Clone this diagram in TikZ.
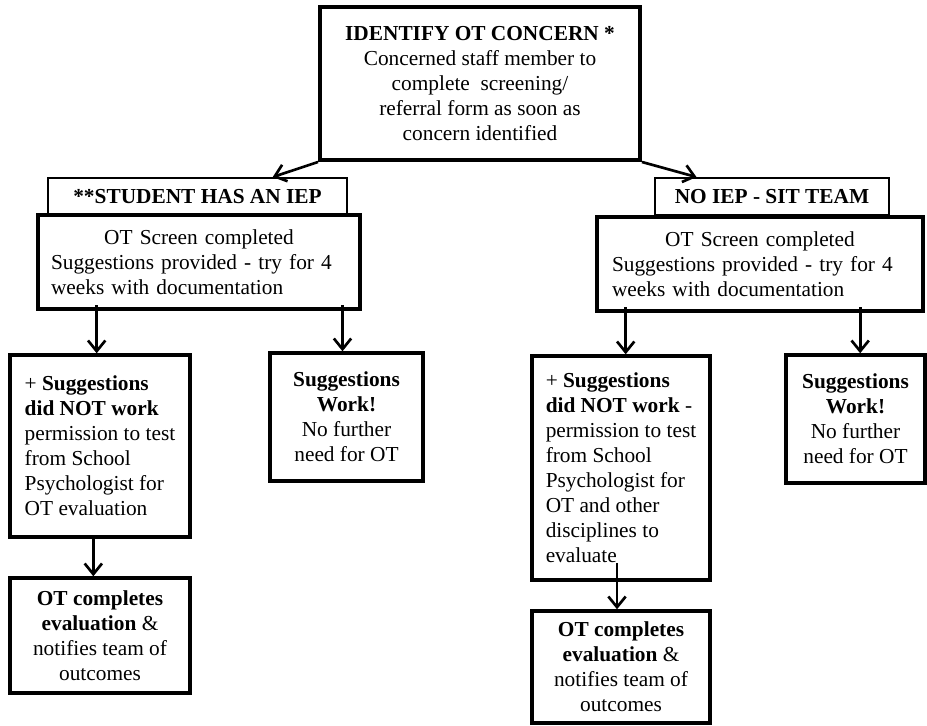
\documentclass[tikz,border=0pt]{standalone}
\usepackage{fontspec}
\setmainfont{Liberation Serif}
\usepackage{tikz}
\usetikzlibrary{arrows.meta,calc}

\tikzset{
  stepbox/.style={draw, line width=2.6pt, fill=white, inner sep=0pt, align=center,
    font=\fontsize{16pt}{18.75pt}\selectfont},
  headbox/.style={draw, line width=1.4pt, fill=white, inner sep=0pt, align=center,
    font=\fontsize{16pt}{18.75pt}\selectfont\bfseries},
  flow/.style={line width=2pt, -{Straight Barb[length=8pt,width=13pt]}}
}

\begin{document}
\begin{tikzpicture}[x=0.75pt,y=0.75pt,yscale=-1,xscale=1]
    \useasboundingbox (0,0) rectangle (927,725);
    % top
    \node [stepbox, line width=3pt, minimum width=240pt, minimum height=114.75pt] (concern) at (480,83.5)
      {\textbf{IDENTIFY OT CONCERN *}\\Concerned staff member to\\complete\ \ screening/\\referral form as soon as\\concern identified};
    % left branch
    \node [headbox, minimum width=224.25pt, minimum height=27.75pt] (iephdr) at (197.5,196.5) {**STUDENT HAS AN IEP};
    \node [stepbox, minimum width=241.5pt, minimum height=70.5pt, text width=222pt, align=left] (iepscreen) at (199,262)
      {\makebox[\linewidth]{OT Screen completed}\\Suggestions provided - try for 4\\weeks with documentation};
    \node [stepbox, minimum width=135pt, minimum height=136.5pt, align=left] (iepfail) at (100,446)
      {+ \textbf{Suggestions}\\\textbf{did NOT work}\\permission to test\\from School\\Psychologist for\\OT evaluation};
    \node [stepbox, minimum width=114.75pt, minimum height=96pt] (iepwork) at (346.5,417)
      {\textbf{Suggestions}\\\textbf{Work!}\\No further\\need for OT};
    \node [stepbox, minimum width=135pt, minimum height=86.25pt] (iepeval) at (100,635.5)
      {\textbf{OT completes}\\\textbf{evaluation} \&\\notifies team of\\outcomes};
    % right branch
    \node [headbox, minimum width=175.5pt, minimum height=27.75pt] (sithdr) at (772,196.5) {NO IEP - SIT TEAM};
    \node [stepbox, minimum width=244.5pt, minimum height=70.5pt, text width=222pt, align=left] (sitscreen) at (760,264)
      {\makebox[\linewidth]{OT Screen completed}\\Suggestions provided - try for 4\\weeks with documentation};
    \node [stepbox, minimum width=133.5pt, minimum height=168pt, align=left] (sitfail) at (621,468)
      {+ \textbf{Suggestions}\\\textbf{did NOT work} -\\permission to test\\from School\\Psychologist for\\OT and other\\disciplines to\\evaluate};
    \node [stepbox, minimum width=104.25pt, minimum height=96pt] (sitwork) at (855.5,419)
      {\textbf{Suggestions}\\\textbf{Work!}\\No further\\need for OT};
    \node [stepbox, minimum width=133.5pt, minimum height=84pt] (siteval) at (621,667)
      {\textbf{OT completes}\\\textbf{evaluation} \&\\notifies team of\\outcomes};
    % connectors
    \draw [flow] (concern.south west) -- ($(iephdr.north west)!0.75!(iephdr.north east)$);
    \draw [flow] (concern.south east) -- ($(sithdr.north west)!0.18!(sithdr.north east)$);
    \draw [flow] ([xshift=-2.5,yshift=-4]iepscreen.south -| iepfail.north) -- ([xshift=-2.5]iepfail.north);
    \draw [flow] ([xshift=-3,yshift=-4]iepscreen.south -| iepwork.north) -- ([xshift=-3]iepwork.north);
    \draw [flow] ([xshift=-5]iepfail.south) -- ([xshift=-5]iepeval.north);
    \draw [flow] ([xshift=3.5,yshift=-4]sitscreen.south -| sitfail.north) -- ([xshift=3.5]sitfail.north);
    \draw [flow] ([xshift=3.5,yshift=-4]sitscreen.south -| sitwork.north) -- ([xshift=3.5]sitwork.north);
    \draw [flow] ([xshift=-3,yshift=-14]sitfail.south) -- ([xshift=-3]siteval.north);
\end{tikzpicture}
\end{document}
